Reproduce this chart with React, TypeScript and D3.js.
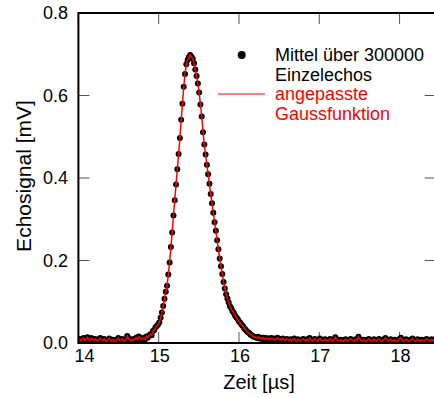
import React from "react";
import * as d3 from "d3";

// sample grid (µs)
const timeStart = 14.0;
const timeStep = 0.016;

// echo signal in mV, one value per sample, 14.000 … 18.448 µs
const baselineBefore = [
  .006,.010,.005,.009,.012,.007,.011,.014,.008,.006,
  .012,.009,.006,.010,.007,.005,.009,.012,.008,.006,
  .010,.007,.004,.008,.011,.007,.005,.008,.006,.004,
  .008,.012,.007,.006,.010,.007,.004,.008,.017,.012,
  .007,.005,.009,.006,.010,.013,.008,.016,.012,.010,
];
const risingEdge = [
  .010,.013,.009,.016,.013,.018,.021,.019,.029,.031,
  .038,.041,.045,.050,.061,.074,.090,.107,.124,.139,
  .166,.195,.233,.268,.309,.346,.384,.421,.458,.497,
  .541,.580,.621,.652,.676,.686,.693,.698,
];
const fallingEdge = [
  .694,.689,.678,.663,.647,.629,.607,.578,.549,.511,
  .481,.457,.432,.409,.386,.361,.339,.316,.293,.272,
  .249,.227,.205,.186,.167,.148,.132,.118,.108,.098,
  .089,.084,.077,.073,.066,.062,.058,.052,.049,.044,
  .041,.036,.033,.029,.026,.024,.020,.019,.016,.015,
  .014,
];
const tailNoise = [
  .012,.015,.011,.013,.010,.013,.009,.012,.010,.011,
  .008,.012,.009,.011,.007,.010,.013,.008,.010,.007,
  .011,.008,.006,.010,.008,
];
const baselineAfter = [
  .006,.009,.005,.008,.011,.007,.005,.009,.006,.004,
  .008,.010,.007,.005,.009,.006,.012,.008,.005,.007,
  .010,.006,.004,.008,.011,.007,.005,.006,.009,.007,
  .005,.008,.010,.006,.005,.008,.014,.009,.006,.005,
  .008,.006,.004,.007,.009,.006,.005,.008,.010,.007,
  .005,.007,.009,.006,.015,.010,.006,.005,.008,.006,
  .004,.007,.010,.007,.005,.006,.009,.007,.004,.008,
  .010,.006,.005,.007,.009,.012,.008,.005,.006,.009,
  .007,.005,.008,.006,.004,.007,.010,.013,.008,.005,
  .006,.009,.007,.004,.006,.008,.011,.007,.005,.006,
  .009,.007,.005,.008,.006,.004,.007,.010,.008,.005,
  .006,.009,.007,.005,.008,
];

const xTicks = [14, 15, 16, 17, 18];
const yTicks = [0, 0.2, 0.4, 0.6, 0.8];
const xDomain = [14, 18.45];
const yDomain = [0, 0.8];

const legendDots = ["Mittel über 300000", "Einzelechos"];
const legendFit = ["angepasste", "Gaussfunktion"];
const xTitle = "Zeit [µs]";
const yTitle = "Echosignal [mV]";

const W = 434, H = 398;
const FONT = "'Liberation Sans', Arial, sans-serif";

export default function App() {
  const values = [...baselineBefore, ...risingEdge, ...fallingEdge, ...tailNoise, ...baselineAfter];
  const data = values.map((v, i) => ({ t: timeStart + i * timeStep, v }));

  const left = 78.4, right = 435.7, top = 13, bottom = 343;
  const x = d3.scaleLinear().domain(xDomain).range([left, right]);
  const y = d3.scaleLinear().domain(yDomain).range([bottom, top]);
  const line = d3.line<{ t: number; v: number }>().x(d => x(d.t)).y(d => y(d.v));
  const tickLen = 11;

  return (
    <svg width={W} height={H} style={{ position: "absolute", left: 0, top: 0, background: "#fff" }} fontFamily={FONT}>
      <defs>
        <clipPath id="plot">
          <rect x={left} y={top - 4} width={right - left} height={bottom - top + 4} />
        </clipPath>
      </defs>

      {/* ticks */}
      {xTicks.map(t => (
        <g key={"xt" + t}>
          <line x1={x(t)} x2={x(t)} y1={bottom} y2={bottom - tickLen} stroke="#555" strokeWidth={1} />
          <line x1={x(t)} x2={x(t)} y1={top} y2={top + tickLen} stroke="#555" strokeWidth={1} />
        </g>
      ))}
      {yTicks.map(v => (
        <g key={"yt" + v}>
          <line x1={left} x2={left + tickLen} y1={y(v)} y2={y(v)} stroke="#555" strokeWidth={1} />
          <line x1={right} x2={right - tickLen} y1={y(v)} y2={y(v)} stroke="#555" strokeWidth={1} />
        </g>
      ))}

      {/* data */}
      <g clipPath="url(#plot)">
        {data.map((d, i) => (
          <circle key={i} cx={x(d.t)} cy={y(d.v)} r={3} fill="#000" />
        ))}
        <path d={line(data) || ""} fill="none" stroke="#ff0000" strokeWidth={1.5} />
      </g>

      {/* frame */}
      <path d={`M${left},${bottom}V${top}H${right}V${bottom}Z`} fill="none" stroke="#000" strokeWidth={2} />

      {/* tick labels */}
      {xTicks.map((t, i) => (
        <text key={"xl" + t} x={x(t) + (i === 0 ? 6 : 1)} y={362} fontSize={18} textAnchor="middle" fill="#000">
          {t}
        </text>
      ))}
      {yTicks.map(v => (
        <text key={"yl" + v} x={68} y={y(v)} dy="0.35em" fontSize={18} textAnchor="end" fill="#000">
          {v.toFixed(1)}
        </text>
      ))}

      {/* axis titles */}
      <text x={259} y={389} fontSize={20} textAnchor="middle" fill="#000">{xTitle}</text>
      <text transform={`translate(31,176) rotate(-90)`} fontSize={21} textAnchor="middle" fill="#000">{yTitle}</text>

      {/* legend */}
      <circle cx={241.7} cy={55} r={4} fill="#000" />
      {legendDots.map((s, i) => (
        <text key={s} x={275} y={61 + i * 20} fontSize={18} fill="#000">{s}</text>
      ))}
      <line x1={218} x2={265} y1={94} y2={94} stroke="#ff0000" strokeWidth={1.2} />
      {legendFit.map((s, i) => (
        <text key={s} x={275} y={100 + i * 19.5} fontSize={18} fill="#ff0000">{s}</text>
      ))}
    </svg>
  );
}
